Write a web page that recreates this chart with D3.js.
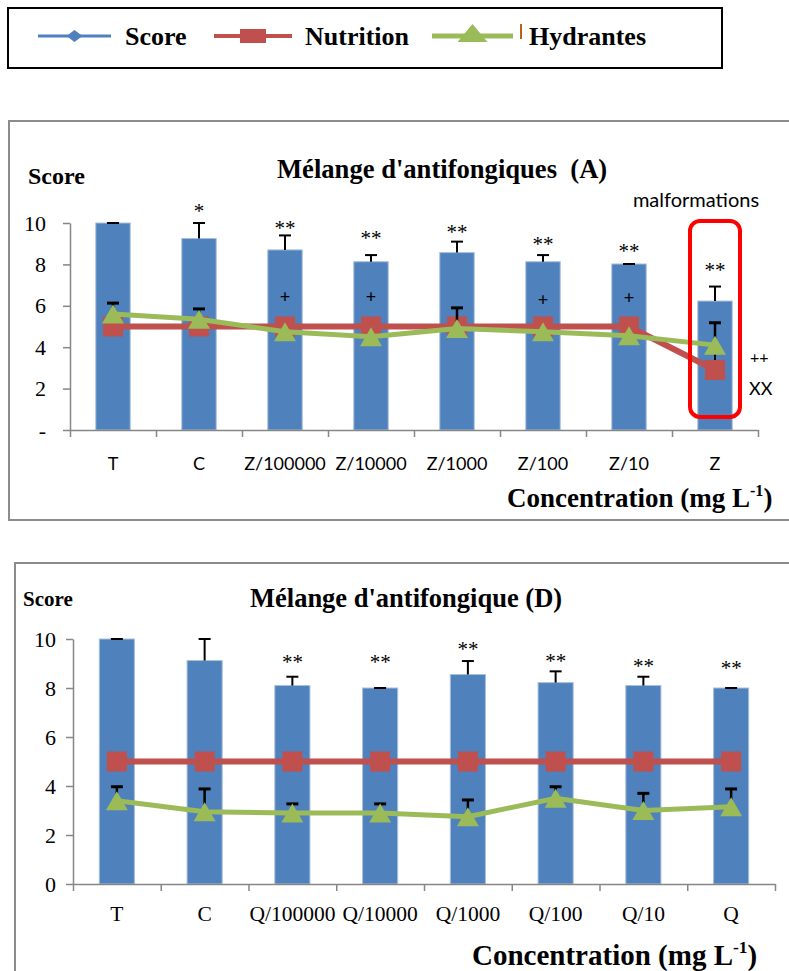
<!DOCTYPE html>
<html><head><meta charset="utf-8">
<script src="https://cdn.jsdelivr.net/npm/d3@7"></script>
<style>body{margin:0;background:#fff} svg{display:block}</style>
</head><body><svg id="c" width="789" height="971"></svg>
<script>
// ---------- data ----------
const seriesNames = ["Score", "Nutrition", "Hydrantes"];
const seriesColors = ["#4F81BD", "#C0504D", "#9BBB59"];

const categoriesA = ["T", "C", "Z/100000", "Z/10000", "Z/1000", "Z/100", "Z/10", "Z"];
const scoreA = [10, 9.25, 8.7, 8.13, 8.57, 8.13, 8.02, 6.23];
const scoreErrA = [0, 0.75, 0.7, 0.32, 0.53, 0.32, 0, 0.7];
const nutritionA = [5, 5, 5, 5, 5, 5, 5, 2.9];
const nutritionErrA = [0, 0, 0, 0, 0, 0, 0, 1.0];
const hydrantesA = [5.6, 5.35, 4.75, 4.5, 4.9, 4.75, 4.55, 4.1];
const hydrantesErrA = [0.53, 0.5, 0, 0, 1.0, 0, 0, 1.08];
const starsA = ["", "*", "**", "**", "**", "**", "**", "**"];
const starLevelA = [0, 10.72, 9.86, 9.42, 9.71, 9.13, 8.79, 7.83];
const plusA = ["", "", "+", "+", "", "+", "+", ""];
const plusLevelA = [0, 0, 6.42, 6.42, 0, 6.28, 6.38, 0];
const yTicksA = [0, 2, 4, 6, 8, 10];
const yTickLabelsA = ["-", "2", "4", "6", "8", "10"];

const categoriesB = ["T", "C", "Q/100000", "Q/10000", "Q/1000", "Q/100", "Q/10", "Q"];
const scoreB = [10, 9.12, 8.1, 8.0, 8.55, 8.22, 8.1, 8.0];
const scoreErrB = [0, 0.88, 0.36, 0, 0.55, 0.46, 0.36, 0];
const nutritionB = [5, 5, 5, 5, 5, 5, 5, 5];
const nutritionErrB = [0, 0, 0, 0, 0, 0, 0, 0];
const hydrantesB = [3.4, 2.95, 2.9, 2.9, 2.75, 3.5, 3.0, 3.15];
const hydrantesErrB = [0.57, 0.93, 0.37, 0.37, 0.68, 0.47, 0.7, 0.73];
const starsB = ["", "", "**", "**", "**", "**", "**", "**"];
const starLevelB = [0, 0, 9.18, 9.18, 9.71, 9.22, 8.98, 8.9];
const plusB = ["", "", "", "", "", "", "", ""];
const plusLevelB = [0, 0, 0, 0, 0, 0, 0, 0];
const yTicksB = [0, 2, 4, 6, 8, 10];
const yTickLabelsB = ["0", "2", "4", "6", "8", "10"];

// ---------- drawing ----------
const svg = d3.select("#c");
const SERIF = "'Liberation Serif', 'Times New Roman', serif";
const SANS = "Lato, 'Liberation Sans', sans-serif";
const AXIS = "#868686";

// Legend
const lg = svg.append("g");
lg.append("rect").attr("x", 8).attr("y", 8).attr("width", 714).attr("height", 60)
  .attr("fill", "#fff").attr("stroke", "#000").attr("stroke-width", 2);
const legendLayout = [
  {x0: 38, x1: 111, tx: 125},
  {x0: 214, x1: 292, tx: 305},
  {x0: 432, x1: 513, tx: 529}
];
const ly = 36;
seriesNames.forEach((name, i) => {
  const L = legendLayout[i];
  lg.append("line").attr("x1", L.x0).attr("x2", L.x1).attr("y1", ly).attr("y2", ly)
    .attr("stroke", seriesColors[i]).attr("stroke-width", i === 0 ? 3 : i === 1 ? 4 : 5);
  const cx = (L.x0 + L.x1) / 2;
  if (i === 0) {
    lg.append("path").attr("d", `M${cx},${ly-6}L${cx+8},${ly}L${cx},${ly+6}L${cx-8},${ly}Z`).attr("fill", seriesColors[0]);
  } else if (i === 1) {
    lg.append("rect").attr("x", cx - 13).attr("y", ly - 7).attr("width", 26).attr("height", 14).attr("fill", seriesColors[1]);
  } else {
    lg.append("path").attr("d", `M${cx},${ly-12}L${cx+15},${ly+6}L${cx-15},${ly+6}Z`).attr("fill", seriesColors[2]);
  }
  lg.append("text").attr("x", L.tx).attr("y", ly + 9).style("font-family", SERIF)
    .attr("font-weight", "bold").attr("font-size", 26).text(name);
});
lg.append("line").attr("x1", 521).attr("x2", 521).attr("y1", 24).attr("y2", 39)
  .attr("stroke", "#B0651E").attr("stroke-width", 2);

function drawPanel(cfg) {
  const g = svg.append("g");
  // frame
  g.append("rect").attr("x", cfg.frame[0]).attr("y", cfg.frame[1])
    .attr("width", cfg.frame[2]).attr("height", cfg.frame[3])
    .attr("fill", "none").attr("stroke", "#8c8c8c").attr("stroke-width", 2);

  const x = d3.scaleBand().domain(cfg.cats).range([cfg.x0, cfg.x1]).paddingInner(0.6).paddingOuter(0.3);
  const xb = d3.scaleLinear().domain([0, cfg.cats.length]).range([cfg.x0, cfg.x1]);
  const y = d3.scaleLinear().domain([0, 10]).range([cfg.y0, cfg.y1]);
  const cx = c => x(c) + x.bandwidth() / 2;

  // bars
  g.selectAll(".bar").data(cfg.cats).enter().append("rect")
    .attr("x", c => x(c)).attr("width", x.bandwidth())
    .attr("y", (c, i) => y(cfg.score[i])).attr("height", (c, i) => y(0) - y(cfg.score[i]))
    .attr("fill", "#4F81BD").attr("stroke", "#A7BFDE").attr("stroke-width", 1);

  // y axis
  const ya = g.append("g").attr("transform", `translate(${cfg.x0},0)`)
    .call(d3.axisLeft(y).tickValues(cfg.yTicks).tickSize(7).tickSizeOuter(0).tickPadding(cfg.yPad)
      .tickFormat((d, i) => cfg.yLabels[i]));
  ya.select(".domain").attr("stroke", AXIS).attr("stroke-width", 1.5);
  ya.selectAll(".tick line").attr("stroke", AXIS).attr("stroke-width", 1.5);
  ya.selectAll(".tick text").style("font-family", SERIF).style("font-size", cfg.yFont + "px").attr("fill", "#000");

  // x axis: boundary ticks
  const xa = g.append("g").attr("transform", `translate(0,${cfg.y0})`)
    .call(d3.axisBottom(xb).tickValues(d3.range(cfg.cats.length + 1)).tickSize(7).tickSizeOuter(0).tickFormat(""));
  xa.select(".domain").attr("stroke", AXIS).attr("stroke-width", 1.5);
  xa.selectAll(".tick line").attr("stroke", AXIS).attr("stroke-width", 1.5);
  // category labels
  const xl = g.append("g").attr("transform", `translate(0,${cfg.y0})`)
    .call(d3.axisBottom(x).tickSize(0).tickPadding(cfg.xPad));
  xl.select(".domain").remove();
  xl.selectAll(".tick text").style("font-family", cfg.xFontFamily).style("font-size", cfg.xFont + "px").attr("fill", "#000");

  // score error bars
  cfg.cats.forEach((c, i) => {
    const top = y(cfg.score[i] + cfg.scoreErr[i]);
    if (cfg.scoreErr[i] > 0) g.append("line").attr("x1", cx(c)).attr("x2", cx(c)).attr("y1", y(cfg.score[i])).attr("y2", top)
      .attr("stroke", "#000").attr("stroke-width", 2);
    g.append("line").attr("x1", cx(c) - 6).attr("x2", cx(c) + 6).attr("y1", top).attr("y2", top)
      .attr("stroke", "#000").attr("stroke-width", 2);
  });

  // annotations inside bars
  cfg.cats.forEach((c, i) => {
    if (cfg.plus[i]) g.append("text").attr("x", cx(c)).attr("y", y(cfg.plusLevel[i]) + 6)
      .attr("text-anchor", "middle").style("font-family", SANS).attr("font-size", 18).text(cfg.plus[i]);
  });

  // nutrition
  const line = d3.line().x((d, i) => cx(cfg.cats[i])).y(d => y(d));
  cfg.cats.forEach((c, i) => {
    if (cfg.nutErr[i] > 0) {
      const top = y(cfg.nutrition[i] + cfg.nutErr[i]);
      g.append("line").attr("x1", cx(c)).attr("x2", cx(c)).attr("y1", y(cfg.nutrition[i])).attr("y2", top).attr("stroke", "#000").attr("stroke-width", 2);
      g.append("line").attr("x1", cx(c) - 6).attr("x2", cx(c) + 6).attr("y1", top).attr("y2", top).attr("stroke", "#000").attr("stroke-width", 2);
    }
  });
  g.append("path").datum(cfg.nutrition).attr("d", line).attr("fill", "none")
    .attr("stroke", "#C0504D").attr("stroke-width", 6);
  g.selectAll(".sq").data(cfg.nutrition).enter().append("rect")
    .attr("x", (d, i) => cx(cfg.cats[i]) - 10).attr("y", d => y(d) - 10)
    .attr("width", 20).attr("height", 20).attr("fill", "#C0504D");

  // hydrantes
  g.append("path").datum(cfg.hydrantes).attr("d", line).attr("fill", "none")
    .attr("stroke", "#9BBB59").attr("stroke-width", 5);
  cfg.cats.forEach((c, i) => {
    if (cfg.hydErr[i] > 0) {
      const top = y(cfg.hydrantes[i] + cfg.hydErr[i]);
      g.append("line").attr("x1", cx(c)).attr("x2", cx(c)).attr("y1", y(cfg.hydrantes[i])).attr("y2", top).attr("stroke", "#000").attr("stroke-width", 2.5);
      g.append("line").attr("x1", cx(c) - 6).attr("x2", cx(c) + 6).attr("y1", top).attr("y2", top).attr("stroke", "#000").attr("stroke-width", 3);
    }
  });
  g.selectAll(".tri").data(cfg.hydrantes).enter().append("path")
    .attr("d", (d, i) => { const px = cx(cfg.cats[i]), py = y(d);
      return `M${px},${py - 9.5}L${px + 11},${py + 9.5}L${px - 11},${py + 9.5}Z`; })
    .attr("fill", "#9BBB59");

  // stars
  cfg.cats.forEach((c, i) => {
    if (cfg.stars[i]) g.append("text").attr("x", cx(c)).attr("y", y(cfg.starLevel[i]) + 9.5)
      .attr("text-anchor", "middle").style("font-family", SERIF).attr("font-size", 21).text(cfg.stars[i]);
  });

  // labels
  g.append("text").attr("x", cfg.scoreLbl[0]).attr("y", cfg.scoreLbl[1]).style("font-family", SERIF)
    .attr("font-weight", "bold").attr("font-size", cfg.scoreLbl[2]).text("Score");
  g.append("text").attr("x", cfg.title[0]).attr("y", cfg.title[1]).style("font-family", SERIF)
    .attr("font-weight", "bold").attr("font-size", cfg.title[2])
    .style("white-space", "pre").text(cfg.title[3]);
  const ct = g.append("text").attr("x", cfg.conc[0]).attr("y", cfg.conc[1]).style("font-family", SERIF)
    .attr("font-weight", "bold").attr("font-size", cfg.conc[2]);
  ct.append("tspan").text("Concentration (mg L");
  ct.append("tspan").attr("font-size", cfg.conc[2] * 0.6).attr("dy", -cfg.conc[2] * 0.42).text("-1");
  ct.append("tspan").attr("dy", cfg.conc[2] * 0.42).text(")");
  return {g, x, y, cx};
}

const A = drawPanel({
  frame: [9, 121, 790, 399],
  cats: categoriesA, score: scoreA, scoreErr: scoreErrA,
  nutrition: nutritionA, nutErr: nutritionErrA, hydrantes: hydrantesA, hydErr: hydrantesErrA,
  stars: starsA, starLevel: starLevelA, plus: plusA, plusLevel: plusLevelA,
  yTicks: yTicksA, yLabels: yTickLabelsA,
  x0: 70, x1: 758, y0: 430, y1: 223, yPad: 17, yFont: 22, xPad: 27, xFont: 18, xFontFamily: SANS,
  scoreLbl: [28, 184, 24], title: [277, 178, 26.6, "Mélange d'antifongiques  (A)"],
  conc: [507, 507, 27]
});

// malformation highlight (panel A)
const zc = A.cx("Z");
A.g.append("rect").attr("x", zc - 25).attr("y", A.y(10.1)).attr("width", 50).attr("height", A.y(0.63) - A.y(10.1))
  .attr("rx", 10).attr("fill", "none").attr("stroke", "#FF0000").attr("stroke-width", 4);
A.g.append("text").attr("x", 696).attr("y", 207).attr("text-anchor", "middle").style("font-family", SANS)
  .attr("font-size", 20).text("malformations");
A.g.append("text").attr("x", 750).attr("y", 363).style("font-family", SANS).attr("font-size", 16).text("++");
A.g.append("text").attr("x", 749).attr("y", 395).style("font-family", SANS).attr("font-size", 18).text("XX");

drawPanel({
  frame: [15, 563, 790, 420],
  cats: categoriesB, score: scoreB, scoreErr: scoreErrB,
  nutrition: nutritionB, nutErr: nutritionErrB, hydrantes: hydrantesB, hydErr: hydrantesErrB,
  stars: starsB, starLevel: starLevelB, plus: plusB, plusLevel: plusLevelB,
  yTicks: yTicksB, yLabels: yTickLabelsB,
  x0: 73, x1: 775, y0: 884, y1: 639, yPad: 10, yFont: 22, xPad: 22, xFont: 21.5, xFontFamily: SERIF,
  scoreLbl: [23, 606, 21], title: [250, 607, 26.5, "Mélange d'antifongique (D)"],
  conc: [472, 965, 29]
});
</script></body></html>
